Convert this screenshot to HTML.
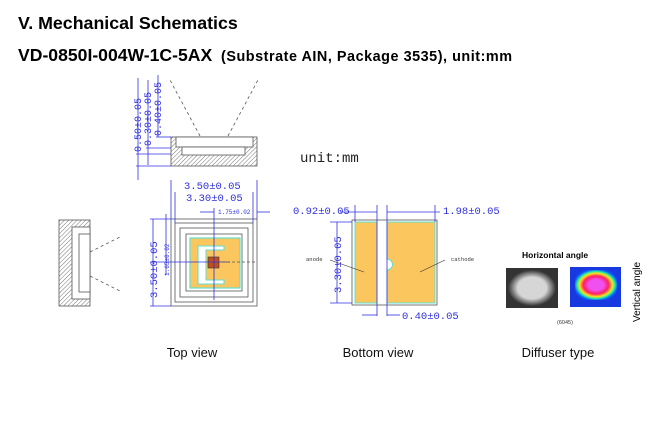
<!DOCTYPE html>
<html><head><meta charset="utf-8"><style>
body{margin:0;background:#fff;width:670px;height:422px;overflow:hidden}
svg{display:block}
.b{fill:#3030e0;font-family:"Liberation Mono",monospace}
</style></head><body>
<svg width="670" height="422" viewBox="0 0 670 422" xmlns="http://www.w3.org/2000/svg">
<defs>
<pattern id="h" width="3" height="3" patternUnits="userSpaceOnUse" patternTransform="rotate(45)">
<rect width="3" height="3" fill="#fff"/><line x1="0" y1="0" x2="0" y2="3" stroke="#777" stroke-width="1"/></pattern>
</defs>
<text x="18" y="29" font-family="Liberation Sans,sans-serif" font-weight="bold" font-size="17.8">V. Mechanical Schematics</text>
<text x="18" y="61" font-family="Liberation Sans,sans-serif" font-weight="bold" font-size="17.6">VD-0850I-004W-1C-5AX</text>
<text x="221" y="61" font-family="Liberation Sans,sans-serif" font-weight="bold" font-size="14.4" textLength="291" lengthAdjust="spacing">(Substrate AIN, Package 3535), unit:mm</text>

<!-- side-top view -->
<g stroke="#555" stroke-width="0.8">
<rect x="171" y="137" width="86" height="29" fill="url(#h)"/>
<rect x="176" y="137" width="77" height="10" fill="#fff"/>
<rect x="182" y="147" width="63" height="8" fill="#fff"/>
</g>
<g stroke="#555" stroke-width="0.8" stroke-dasharray="3,3" fill="none">
<line x1="200" y1="136" x2="170" y2="80"/><line x1="228" y1="136" x2="258" y2="80"/>
<line x1="90" y1="252" x2="122" y2="236"/><line x1="90" y1="276" x2="122" y2="292"/>
</g>
<g stroke="#3030e0" stroke-width="0.8" fill="none">
<line x1="136" y1="166" x2="171" y2="166"/><line x1="136" y1="154" x2="171" y2="154"/>
<line x1="146" y1="148" x2="171" y2="148"/><line x1="156" y1="137" x2="171" y2="137"/>
<line x1="138" y1="78" x2="138" y2="180"/><line x1="148" y1="80" x2="148" y2="165"/><line x1="158" y1="75" x2="158" y2="137"/>
</g>
<text class="b" font-size="10" transform="translate(141,152) rotate(-90)">0.50±0.05</text>
<text class="b" font-size="10" transform="translate(151,146) rotate(-90)">0.30±0.05</text>
<text class="b" font-size="10" transform="translate(161,136) rotate(-90)">0.40±0.05</text>

<!-- left side view -->
<g stroke="#555" stroke-width="0.8">
<rect x="59" y="220" width="31" height="86" fill="url(#h)"/>
<rect x="72" y="227" width="18" height="72" fill="#fff"/>
<rect x="79" y="234" width="11" height="58" fill="#fff"/>
</g>

<!-- top view -->
<g fill="none" stroke="#555" stroke-width="0.8">
<rect x="171" y="219" width="86" height="87"/>
<rect x="175" y="223" width="78" height="79"/>
<rect x="180" y="228" width="68" height="69"/>
<rect x="186" y="234" width="56" height="57"/>
</g>
<rect x="190" y="238" width="50" height="50" fill="#fcc65e" stroke="#5ee0d0" stroke-width="1.2"/>
<path d="M198 246 H224 V250 H206 V280 H224 V284 H198 Z" fill="#fff" stroke="#5ee0d0" stroke-width="1"/>
<rect x="208" y="257" width="11" height="11" fill="#c0501a" stroke="#333" stroke-width="0.6"/>
<g stroke="#3030e0" stroke-width="0.8" fill="none">
<line x1="171" y1="180" x2="171" y2="219"/><line x1="257" y1="180" x2="257" y2="219"/>
<line x1="175" y1="192" x2="175" y2="223"/><line x1="253" y1="192" x2="253" y2="223"/>
<line x1="214" y1="208" x2="214" y2="300"/><line x1="150" y1="262" x2="230" y2="262"/>
<line x1="150" y1="219" x2="171" y2="219"/><line x1="150" y1="306" x2="171" y2="306"/>
<line x1="153" y1="219" x2="153" y2="306"/><line x1="166" y1="214" x2="166" y2="275"/>
<line x1="200" y1="212" x2="214" y2="212"/><line x1="257" y1="212" x2="270" y2="212"/>
</g>
<line x1="222" y1="262" x2="257" y2="262" stroke="#555" stroke-width="0.7" stroke-dasharray="3,2"/>
<text class="b" font-size="10.5" x="184" y="189">3.50±0.05</text>
<text class="b" font-size="10.5" x="186" y="201">3.30±0.05</text>
<text class="b" font-size="6" x="218" y="214">1.75±0.02</text>
<text class="b" font-size="10.5" transform="translate(157,298) rotate(-90)">3.50±0.05</text>
<text class="b" font-size="6" transform="translate(169,276) rotate(-90)">1.65±0.02</text>

<text x="300" y="162" font-family="Liberation Mono,monospace" font-size="14" fill="#222">unit:mm</text>

<!-- bottom view -->
<rect x="352" y="220" width="85" height="85" fill="#fff" stroke="#555" stroke-width="0.8"/>
<rect x="355" y="222" width="22" height="81" fill="#fcc65e" stroke="#5ee0d0"/>
<path d="M387 222 H435 V303 H387 V270 A5 5 0 0 0 387 259 Z" fill="#fcc65e" stroke="#5ee0d0"/>
<g stroke="#3030e0" stroke-width="0.8" fill="none">
<line x1="355" y1="205" x2="355" y2="222"/><line x1="377" y1="205" x2="377" y2="316"/>
<line x1="387" y1="205" x2="387" y2="316"/><line x1="435" y1="205" x2="435" y2="222"/>
<line x1="340" y1="212" x2="377" y2="212"/><line x1="387" y1="212" x2="440" y2="212"/>
<line x1="330" y1="222" x2="352" y2="222"/><line x1="330" y1="303" x2="352" y2="303"/>
<line x1="337" y1="222" x2="337" y2="303"/><line x1="362" y1="315" x2="377" y2="315"/><line x1="387" y1="315" x2="400" y2="315"/>
</g>
<line x1="330" y1="260" x2="364" y2="272" stroke="#333" stroke-width="0.6"/>
<line x1="445" y1="260" x2="420" y2="272" stroke="#333" stroke-width="0.6"/>
<text class="b" font-size="10.5" x="293" y="214">0.92±0.05</text>
<text class="b" font-size="10.5" x="443" y="214">1.98±0.05</text>
<text class="b" font-size="10.5" x="402" y="319">0.40±0.05</text>
<text class="b" font-size="10.5" transform="translate(341,293) rotate(-90)">3.30±0.05</text>
<text x="306" y="261" font-family="Liberation Mono,monospace" font-size="5.5" fill="#333">anode</text>
<text x="451" y="261" font-family="Liberation Mono,monospace" font-size="5.5" fill="#333">cathode</text>

<!-- diffuser -->
<text x="522" y="258" font-family="Liberation Sans,sans-serif" font-weight="bold" font-size="8.5">Horizontal angle</text>
<defs><radialGradient id="g1"><stop offset="0.6" stop-color="#d6d6d6"/><stop offset="1" stop-color="#333"/></radialGradient>
<radialGradient id="g2" cx="0.5" cy="0.5" r="0.6"><stop offset="0.3" stop-color="#f050f0"/><stop offset="0.5" stop-color="#ff2060"/><stop offset="0.65" stop-color="#ffe020"/><stop offset="0.75" stop-color="#20f0a0"/><stop offset="0.85" stop-color="#1060ff"/><stop offset="1" stop-color="#1030d0"/></radialGradient></defs>
<rect x="506" y="268" width="52" height="40" fill="#333"/>
<rect x="508" y="270" width="48" height="36" rx="10" fill="url(#g1)"/>
<rect x="570" y="267" width="51" height="40" fill="#1838e0"/>
<rect x="575" y="270" width="42" height="30" rx="12" fill="url(#g2)"/>
<text x="557" y="324" font-family="Liberation Sans,sans-serif" font-size="5.5" fill="#333">(6045)</text>
<text transform="translate(640,322) rotate(-90)" font-family="Liberation Sans,sans-serif" font-size="10">Vertical angle</text>

<g font-family="Liberation Sans,sans-serif" font-size="13" fill="#111" text-anchor="middle">
<text x="192" y="357">Top view</text><text x="378" y="357">Bottom view</text><text x="558" y="357">Diffuser type</text>
</g>
</svg>
</body></html>
